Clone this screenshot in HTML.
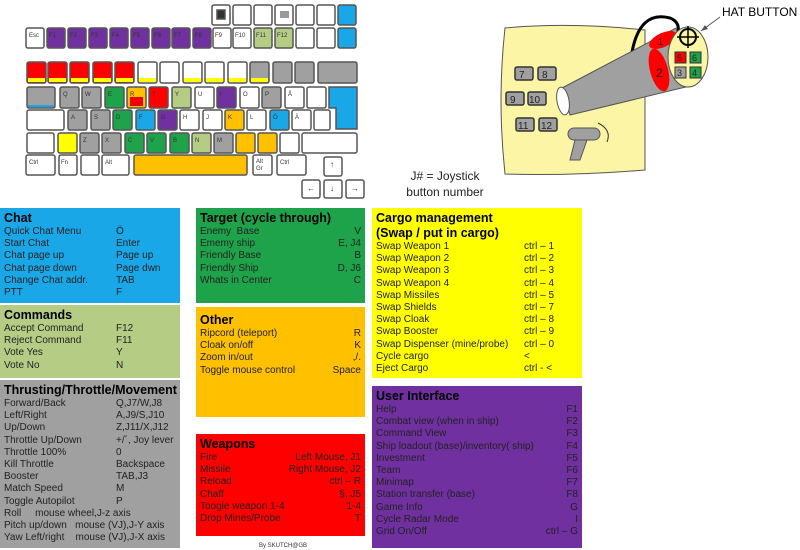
<!DOCTYPE html>
<html><head><meta charset="utf-8"><style>
body{margin:0;width:800px;height:550px;background:#fff;position:relative;overflow:hidden;font-family:"Liberation Sans",sans-serif;}
.p{position:absolute;box-sizing:border-box;padding:3px 4px;font-size:10px;line-height:12.2px;color:#222;}
.p h3{margin:0;font-size:12.5px;line-height:15px;font-weight:bold;color:#000;}
.r{display:flex;white-space:nowrap}
.r span:first-child{flex:none}
.k{position:absolute}
</style></head><body>
<svg width="800" height="550" style="position:absolute;left:0;top:0" font-family="Liberation Sans" font-size="6">
<defs><g id="x"></g></defs>
<g stroke="#555" stroke-width="1.5">
<!-- top row -->
<rect x="212" y="5" width="18" height="20" rx="2" fill="#fff"/><rect x="217" y="10" width="8" height="9" fill="#333"/>
<rect x="233" y="5" width="18" height="20" rx="2" fill="#fff"/>
<rect x="254" y="5" width="18" height="20" rx="2" fill="#fff"/>
<rect x="275" y="5" width="18" height="20" rx="2" fill="#fff"/><rect x="280" y="11" width="9" height="7" fill="#999" stroke="none"/>
<rect x="296" y="5" width="18" height="20" rx="2" fill="#fff"/>
<rect x="317" y="5" width="18" height="20" rx="2" fill="#fff"/>
<rect x="338" y="5" width="18" height="20" rx="2" fill="#1aa7e8"/>
<!-- F row -->
<rect x="26" y="28" width="18" height="20" rx="2" fill="#fff"/>
<rect x="47" y="28" width="18" height="20" rx="2" fill="#7030a0"/>
<rect x="68" y="28" width="18" height="20" rx="2" fill="#7030a0"/>
<rect x="89" y="28" width="18" height="20" rx="2" fill="#7030a0"/>
<rect x="110" y="28" width="18" height="20" rx="2" fill="#7030a0"/>
<rect x="131" y="28" width="18" height="20" rx="2" fill="#7030a0"/>
<rect x="152" y="28" width="18" height="20" rx="2" fill="#7030a0"/>
<rect x="172" y="28" width="18" height="20" rx="2" fill="#7030a0"/>
<rect x="193" y="28" width="18" height="20" rx="2" fill="#7030a0"/>
<rect x="213" y="28" width="18" height="20" rx="2" fill="#fff"/>
<rect x="233" y="28" width="18" height="20" rx="2" fill="#fff"/>
<rect x="254" y="28" width="18" height="20" rx="2" fill="#b5cc85"/>
<rect x="275" y="28" width="18" height="20" rx="2" fill="#b5cc85"/>
<rect x="296" y="28" width="18" height="20" rx="2" fill="#fff"/>
<rect x="317" y="28" width="18" height="20" rx="2" fill="#fff"/>
<rect x="338" y="28" width="18" height="20" rx="2" fill="#1aa7e8"/>
<!-- number row -->
<rect x="27" y="62" width="19" height="21" rx="2" fill="#f00"/>
<rect x="48" y="62" width="19" height="21" rx="2" fill="#f00"/>
<rect x="70" y="62" width="19" height="21" rx="2" fill="#f00"/>
<rect x="93" y="62" width="19" height="21" rx="2" fill="#f00"/>
<rect x="115" y="62" width="19" height="21" rx="2" fill="#f00"/>
<rect x="138" y="62" width="19" height="21" rx="2" fill="#fff"/>
<rect x="160" y="62" width="19" height="21" rx="2" fill="#fff"/>
<rect x="183" y="62" width="19" height="21" rx="2" fill="#fff"/>
<rect x="205" y="62" width="19" height="21" rx="2" fill="#fff"/>
<rect x="228" y="62" width="19" height="21" rx="2" fill="#fff"/>
<rect x="250" y="62" width="19" height="21" rx="2" fill="#a0a0a0"/>
<rect x="273" y="62" width="19" height="21" rx="2" fill="#a0a0a0"/>
<rect x="295" y="62" width="19" height="21" rx="2" fill="#a0a0a0"/>
<rect x="318" y="62" width="39" height="21" rx="2" fill="#a0a0a0"/>
<!-- Q row -->
<rect x="27" y="87" width="28" height="21" rx="2" fill="#a0a0a0"/>
<rect x="60" y="87" width="19" height="21" rx="2" fill="#a0a0a0"/>
<rect x="82" y="87" width="19" height="21" rx="2" fill="#a0a0a0"/>
<rect x="105" y="87" width="19" height="21" rx="2" fill="#1ea34a"/>
<rect x="127" y="87" width="19" height="21" rx="2" fill="#ffc000"/>
<rect x="149" y="87" width="19" height="21" rx="2" fill="#f00"/>
<rect x="172" y="87" width="19" height="21" rx="2" fill="#b5cc85"/>
<rect x="195" y="87" width="19" height="21" rx="2" fill="#fff"/>
<rect x="217" y="87" width="19" height="21" rx="2" fill="#7030a0"/>
<rect x="240" y="87" width="19" height="21" rx="2" fill="#fff"/>
<rect x="262" y="87" width="19" height="21" rx="2" fill="#a0a0a0"/>
<rect x="285" y="87" width="19" height="21" rx="2" fill="#fff"/>
<rect x="307" y="87" width="19" height="21" rx="2" fill="#fff"/>
<path d="M329 87 H357 V129 H336 V108 H329 Z" fill="#1aa7e8"/>
<!-- A row -->
<rect x="27" y="110" width="37" height="20" rx="2" fill="#fff"/>
<rect x="68" y="110" width="19" height="20" rx="2" fill="#a0a0a0"/>
<rect x="91" y="110" width="19" height="20" rx="2" fill="#a0a0a0"/>
<rect x="113" y="110" width="19" height="20" rx="2" fill="#1ea34a"/>
<rect x="136" y="110" width="19" height="20" rx="2" fill="#1aa7e8"/>
<rect x="158" y="110" width="19" height="20" rx="2" fill="#7030a0"/>
<rect x="180" y="110" width="19" height="20" rx="2" fill="#fff"/>
<rect x="203" y="110" width="19" height="20" rx="2" fill="#fff"/>
<rect x="225" y="110" width="19" height="20" rx="2" fill="#ffc000"/>
<rect x="247" y="110" width="19" height="20" rx="2" fill="#fff"/>
<rect x="270" y="110" width="19" height="20" rx="2" fill="#1aa7e8"/>
<rect x="292" y="110" width="19" height="20" rx="2" fill="#fff"/>
<rect x="314" y="110" width="16" height="20" rx="2" fill="#fff"/>
<!-- Z row -->
<rect x="27" y="133" width="27" height="20" rx="2" fill="#fff"/>
<rect x="58" y="133" width="19" height="20" rx="2" fill="#ff0"/>
<rect x="80" y="133" width="19" height="20" rx="2" fill="#a0a0a0"/>
<rect x="102" y="133" width="19" height="20" rx="2" fill="#a0a0a0"/>
<rect x="125" y="133" width="19" height="20" rx="2" fill="#1ea34a"/>
<rect x="147" y="133" width="19" height="20" rx="2" fill="#1ea34a"/>
<rect x="170" y="133" width="19" height="20" rx="2" fill="#1ea34a"/>
<rect x="192" y="133" width="19" height="20" rx="2" fill="#b5cc85"/>
<rect x="214" y="133" width="19" height="20" rx="2" fill="#a0a0a0"/>
<rect x="236" y="133" width="19" height="20" rx="2" fill="#ffc000"/>
<rect x="258" y="133" width="19" height="20" rx="2" fill="#ffc000"/>
<rect x="280" y="133" width="19" height="20" rx="2" fill="#fff"/>
<rect x="302" y="133" width="55" height="20" rx="2" fill="#fff"/>
<!-- bottom row -->
<rect x="26" y="155" width="29" height="20" rx="2" fill="#fff"/>
<rect x="59" y="155" width="18" height="20" rx="2" fill="#fff"/>
<rect x="81" y="155" width="18" height="20" rx="2" fill="#fff"/>
<rect x="102" y="155" width="27" height="20" rx="2" fill="#fff"/>
<rect x="134" y="155" width="113" height="20" rx="2" fill="#ffc000"/>
<rect x="253" y="155" width="19" height="20" rx="2" fill="#fff"/>
<rect x="277" y="155" width="29" height="20" rx="2" fill="#fff"/>
<rect x="324" y="157" width="18" height="19" rx="2" fill="#fff"/>
<rect x="302" y="180" width="18" height="18" rx="2" fill="#fff"/>
<rect x="324" y="180" width="18" height="18" rx="2" fill="#fff"/>
<rect x="346" y="180" width="18" height="18" rx="2" fill="#fff"/>
</g>
<g fill="#ff0">
<rect x="28" y="78" width="17" height="4"/><rect x="49" y="78" width="17" height="4"/><rect x="71" y="78" width="17" height="4"/><rect x="94" y="78" width="17" height="4"/><rect x="116" y="78" width="17" height="4"/><rect x="139" y="78" width="17" height="4"/><rect x="184" y="78" width="17" height="4"/><rect x="206" y="78" width="17" height="4"/><rect x="229" y="78" width="17" height="4"/><rect x="251" y="78" width="17" height="4"/>
</g>
<rect x="28" y="105" width="26" height="2" fill="#1aa7e8"/>
<rect x="130" y="97" width="13" height="9" fill="#e00"/>
<g fill="#333">
<text x="29" y="37">Esc</text><text x="49" y="37">F1</text><text x="70" y="37">F2</text><text x="91" y="37">F3</text><text x="112" y="37">F4</text><text x="133" y="37">F5</text><text x="154" y="37">F6</text><text x="174" y="37">F7</text><text x="195" y="37">F8</text><text x="215" y="37">F9</text><text x="235" y="37">F10</text><text x="256" y="37">F11</text><text x="277" y="37">F12</text>
<text x="63" y="96">Q</text><text x="85" y="96">W</text><text x="108" y="96">E</text><text x="130" y="96">R</text><text x="152" y="96">T</text><text x="175" y="96">Y</text><text x="198" y="96">U</text><text x="220" y="96">I</text><text x="243" y="96">O</text><text x="265" y="96">P</text><text x="288" y="96">Å</text>
<text x="71" y="119">A</text><text x="94" y="119">S</text><text x="116" y="119">D</text><text x="139" y="119">F</text><text x="161" y="119">G</text><text x="183" y="119">H</text><text x="206" y="119">J</text><text x="228" y="119">K</text><text x="250" y="119">L</text><text x="273" y="119">Ö</text><text x="295" y="119">Ä</text>
<text x="83" y="142">Z</text><text x="105" y="142">X</text><text x="128" y="142">C</text><text x="150" y="142">V</text><text x="173" y="142">B</text><text x="195" y="142">N</text><text x="217" y="142">M</text>
<text x="29" y="164">Ctrl</text><text x="61" y="164">Fn</text><text x="105" y="164">Alt</text><text x="256" y="163">Alt</text><text x="256" y="170">Gr</text><text x="280" y="164">Ctrl</text>
<text x="330" y="167" font-size="8">↑</text><text x="307" y="191" font-size="8">←</text><text x="330" y="191" font-size="8">↓</text><text x="351" y="191" font-size="8">→</text>
</g>
<!-- joystick -->
<path d="M505 28 Q570 22 645 30 L645 170 Q570 176 505 174 Q497 100 505 28 Z" fill="#fbf5a5" stroke="#555" stroke-width="1"/>
<g stroke="#333" stroke-width="1.5" fill="#a0a0a0">
<rect x="515" y="67" width="18" height="13" rx="2"/><rect x="538" y="67" width="18" height="13" rx="2"/>
<rect x="506" y="92" width="18" height="13" rx="2"/><rect x="528" y="92" width="18" height="13" rx="2"/>
<rect x="516" y="118" width="18" height="13" rx="2"/><rect x="539" y="118" width="18" height="13" rx="2"/>
</g>
<g font-size="10" fill="#222"><text x="519" y="78">7</text><text x="542" y="78">8</text><text x="510" y="103">9</text><text x="529" y="103">10</text><text x="518" y="129">11</text><text x="541" y="129">12</text></g>
<path d="M632 52 Q640 10 670 18 Q680 22 678 32" fill="none" stroke="#000" stroke-width="3"/>
<path d="M562 88 L676 28 L690 86 L570 115 Z" fill="#a0a0a0" stroke="#555"/>
<ellipse cx="563" cy="101" rx="6" ry="14" fill="#fff" stroke="#555" transform="rotate(-10 563 101)"/>
<ellipse cx="663" cy="40" rx="15" ry="7" fill="#f00" transform="rotate(-25 663 40)"/>
<ellipse cx="659" cy="70" rx="9" ry="22" fill="#f00" transform="rotate(-15 659 70)"/>
<text x="656" y="77" font-size="12" fill="#222">2</text><text x="658" y="45" font-size="9" fill="#222">1</text>
<ellipse cx="688" cy="57" rx="20" ry="30" fill="#fbf5a5" stroke="#555"/>
<circle cx="688" cy="37" r="8" fill="none" stroke="#000" stroke-width="2"/>
<path d="M688 26V48M677 37H699" stroke="#000" stroke-width="1.5"/>
<rect x="675" y="52" width="11" height="11" fill="#f00" stroke="#333"/><rect x="690" y="52" width="11" height="11" fill="#1ea34a" stroke="#333"/>
<rect x="675" y="67" width="11" height="11" fill="#a0a0a0" stroke="#333"/><rect x="690" y="67" width="11" height="11" fill="#1ea34a" stroke="#333"/>
<g font-size="9" fill="#222"><text x="677" y="61">5</text><text x="692" y="61">6</text><text x="677" y="76">3</text><text x="692" y="76">4</text></g>
<path d="M720 17 L701 31" stroke="#555"/><path d="M701 31 l7 -2 l-3 -4 z" fill="#555"/>
<text x="722" y="16" font-size="12" fill="#000">HAT BUTTON</text>
<path d="M575 140 L587 140 L580 160 L570 160 Z" fill="#a0a0a0" stroke="#555"/>
<rect x="568" y="128" width="32" height="12" rx="6" fill="#a0a0a0" stroke="#555"/>
<path d="M598 123 Q612 130 607 142" fill="none" stroke="#333"/>
<text x="445" y="180" font-size="12" text-anchor="middle" fill="#222">J# = Joystick</text>
<text x="445" y="196" font-size="12" text-anchor="middle" fill="#222">button number</text>
<text x="283" y="547" font-size="6" text-anchor="middle" fill="#333">By SKUTCH@GB</text>
</svg>

<div class="p" style="left:0;top:208px;width:180px;height:95px;background:#1aa7e8">
<h3>Chat</h3>
<div class="r"><span style="width:112px">Quick Chat Menu</span><span>Ö</span></div>
<div class="r"><span style="width:112px">Start Chat</span><span>Enter</span></div>
<div class="r"><span style="width:112px">Chat page up</span><span>Page up</span></div>
<div class="r"><span style="width:112px">Chat page down</span><span>Page dwn</span></div>
<div class="r"><span style="width:112px">Change Chat addr.</span><span>TAB</span></div>
<div class="r"><span style="width:112px">PTT</span><span>F</span></div>
</div>
<div class="p" style="left:0;top:305px;width:180px;height:73px;background:#b5cc85">
<h3>Commands</h3>
<div class="r"><span style="width:112px">Accept Command</span><span>F12</span></div>
<div class="r"><span style="width:112px">Reject Command</span><span>F11</span></div>
<div class="r"><span style="width:112px">Vote Yes</span><span>Y</span></div>
<div class="r"><span style="width:112px">Vote No</span><span>N</span></div>
</div>
<div class="p" style="left:0;top:380px;width:180px;height:168px;background:#a0a0a0">
<h3>Thrusting/Throttle/Movement</h3>
<div class="r"><span style="width:112px">Forward/Back</span><span>Q,J7/W,J8</span></div>
<div class="r"><span style="width:112px">Left/Right</span><span>A,J9/S,J10</span></div>
<div class="r"><span style="width:112px">Up/Down</span><span>Z,J11/X,J12</span></div>
<div class="r"><span style="width:112px">Throttle Up/Down</span><span>+/´, Joy lever</span></div>
<div class="r"><span style="width:112px">Throttle 100%</span><span>0</span></div>
<div class="r"><span style="width:112px">Kill Throttle</span><span>Backspace</span></div>
<div class="r"><span style="width:112px">Booster</span><span>TAB,J3</span></div>
<div class="r"><span style="width:112px">Match Speed</span><span>M</span></div>
<div class="r"><span style="width:112px">Toggle Autopilot</span><span>P</span></div>
<div class="r"><span>Roll&nbsp;&nbsp;&nbsp;&nbsp; mouse wheel,J-z axis</span></div>
<div class="r"><span>Pitch up/down&nbsp;&nbsp; mouse (VJ),J-Y axis</span></div>
<div class="r"><span>Yaw Left/right&nbsp;&nbsp;&nbsp; mouse (VJ),J-X axis</span></div>
</div>
<div class="p" style="left:196px;top:208px;width:169px;height:95px;background:#1ea34a">
<h3>Target (cycle through)</h3>
<div class="r" style="justify-content:space-between"><span>Enemy&nbsp; Base</span><span>V</span></div>
<div class="r" style="justify-content:space-between"><span>Ememy ship</span><span>E, J4</span></div>
<div class="r" style="justify-content:space-between"><span>Friendly Base</span><span>B</span></div>
<div class="r" style="justify-content:space-between"><span>Friendly Ship</span><span>D, J6</span></div>
<div class="r" style="justify-content:space-between"><span>Whats in Center</span><span>C</span></div>
</div>
<div class="p" style="left:196px;top:307px;width:169px;height:110px;background:#ffc000;padding-top:6px">
<h3>Other</h3>
<div class="r" style="justify-content:space-between"><span>Ripcord (teleport)</span><span>R</span></div>
<div class="r" style="justify-content:space-between"><span>Cloak on/off</span><span>K</span></div>
<div class="r" style="justify-content:space-between"><span>Zoom in/out</span><span>,/.</span></div>
<div class="r" style="justify-content:space-between"><span>Toggle mouse control</span><span>Space</span></div>
</div>
<div class="p" style="left:196px;top:434px;width:169px;height:102px;background:#f00">
<h3>Weapons</h3>
<div class="r" style="justify-content:space-between"><span>Fire</span><span>Left Mouse, J1</span></div>
<div class="r" style="justify-content:space-between"><span>Missile</span><span>Right Mouse, J2</span></div>
<div class="r" style="justify-content:space-between"><span>Reload</span><span>ctrl – R</span></div>
<div class="r" style="justify-content:space-between"><span>Chaff</span><span>§, J5</span></div>
<div class="r" style="justify-content:space-between"><span>Toogle weapon 1-4</span><span>1-4</span></div>
<div class="r" style="justify-content:space-between"><span>Drop Mines/Probe</span><span>T</span></div>
</div>
<div class="p" style="left:372px;top:208px;width:210px;height:170px;background:#ff0">
<h3>Cargo management<br>(Swap / put in cargo)</h3>
<div class="r"><span style="width:148px">Swap Weapon 1</span><span>ctrl – 1</span></div>
<div class="r"><span style="width:148px">Swap Weapon 2</span><span>ctrl – 2</span></div>
<div class="r"><span style="width:148px">Swap Weapon 3</span><span>ctrl – 3</span></div>
<div class="r"><span style="width:148px">Swap Weapon 4</span><span>ctrl – 4</span></div>
<div class="r"><span style="width:148px">Swap Missiles</span><span>ctrl – 5</span></div>
<div class="r"><span style="width:148px">Swap Shields</span><span>ctrl – 7</span></div>
<div class="r"><span style="width:148px">Swap Cloak</span><span>ctrl – 8</span></div>
<div class="r"><span style="width:148px">Swap Booster</span><span>ctrl – 9</span></div>
<div class="r"><span style="width:148px">Swap Dispenser (mine/probe)</span><span>ctrl – 0</span></div>
<div class="r"><span style="width:148px">Cycle cargo</span><span>&lt;</span></div>
<div class="r"><span style="width:148px">Eject Cargo</span><span>ctrl - &lt;</span></div>
</div>
<div class="p" style="left:372px;top:386px;width:210px;height:162px;background:#7030a0">
<h3>User Interface</h3>
<div class="r" style="justify-content:space-between"><span>Help</span><span>F1</span></div>
<div class="r" style="justify-content:space-between"><span>Combat view (when in ship)</span><span>F2</span></div>
<div class="r" style="justify-content:space-between"><span>Command View</span><span>F3</span></div>
<div class="r" style="justify-content:space-between"><span>Ship loadout (base)/inventory( ship)</span><span>F4</span></div>
<div class="r" style="justify-content:space-between"><span>Investment</span><span>F5</span></div>
<div class="r" style="justify-content:space-between"><span>Team</span><span>F6</span></div>
<div class="r" style="justify-content:space-between"><span>Minimap</span><span>F7</span></div>
<div class="r" style="justify-content:space-between"><span>Station transfer (base)</span><span>F8</span></div>
<div class="r" style="justify-content:space-between"><span>Game Info</span><span>G</span></div>
<div class="r" style="justify-content:space-between"><span>Cycle Radar Mode</span><span>I</span></div>
<div class="r" style="justify-content:space-between"><span>Grid On/Off</span><span>ctrl – G</span></div>
</div>
</body></html>
